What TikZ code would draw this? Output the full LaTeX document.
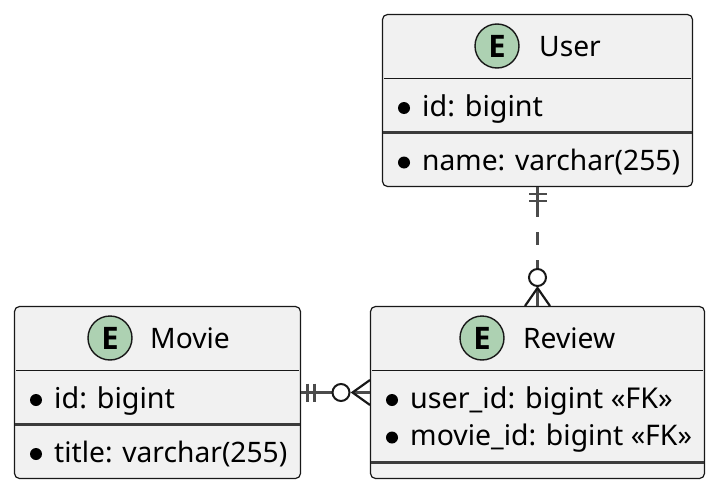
\documentclass[tikz,border=0pt]{standalone}
\usepackage{fontspec}
\setmainfont{Noto Sans}
\newfontfamily\spotfont{Open Sans}
\definecolor{ink}{HTML}{181818}
\definecolor{boxfill}{HTML}{F1F1F1}
\definecolor{spot}{HTML}{ADD1B2}
\tikzset{
  entity/.style={draw=ink,fill=boxfill,line width=1.2pt,rounded corners=5pt,inner sep=0pt,minimum height=172pt},
  spotnode/.style={circle,draw=ink,fill=spot,line width=1.4pt,inner sep=0pt,minimum size=44pt,font=\spotfont\bfseries\fontsize{31}{31}\selectfont},
  txt/.style={anchor=base west,inner sep=0pt,font=\fontsize{28.2}{28.2}\selectfont,text=black},
  widetxt/.style={txt,font=\fontsize{28.7}{28.7}\selectfont},
  bulletdot/.style={circle,fill=black,inner sep=0pt,minimum size=12pt},
  headline/.style={draw=ink,line width=1.2pt},
  sepline/.style={draw=ink!85!white,line width=2.2pt},
  conn/.style={draw=ink!78!white,line width=2.05pt},
  crow/.style={draw=ink,line width=2.2pt},
  ring/.style={circle,draw=ink,fill=white,line width=2pt,inner sep=0pt,minimum size=17pt}
}
\begin{document}
\begin{tikzpicture}[x=1pt,y=-1pt]
\useasboundingbox (0,0) rectangle (716,490);
% entities
\node[entity,minimum width=310pt] (user) at (537.5,100.5) {};
\node[entity,minimum width=286pt] (movie) at (157.5,392.5) {};
\node[entity,minimum width=334pt] (review) at (537.5,392.5) {};
% User
\node[spotnode] (userspot) at (497,46) {E};
\node[txt] (usertitle) at (539,56.5) {User};
\draw[headline] (384,78.5) -- (691,78.5);
\node[bulletdot] (ub1) at (404,108) {};
\node[widetxt] (uid) at (422,116) {id: bigint};
\draw[sepline] (383,132.5) -- (692,132.5);
\node[bulletdot] (ub2) at (404,162.5) {};
\node[txt] (uname) at (422,170.5) {name: varchar(255)};
% Movie
\node[spotnode] (moviespot) at (110,338) {E};
\node[txt] (movietitle) at (150,348.5) {Movie};
\draw[headline] (16,370.5) -- (299,370.5);
\node[bulletdot] (mb1) at (36,400) {};
\node[widetxt] (mid) at (54,408) {id: bigint};
\draw[sepline] (15,424.5) -- (300,424.5);
\node[bulletdot] (mb2) at (36,454) {};
\node[txt] (mtitle) at (54,462.5) {title: varchar(255)};
% Review
\node[spotnode] (reviewspot) at (482,338) {E};
\node[txt] (reviewtitle) at (523,348.5) {Review};
\draw[headline] (372,370.5) -- (703,370.5);
\node[bulletdot] (rb1) at (392,400) {};
\node[widetxt] (ruser) at (410,408) {user\_id: bigint «FK»};
\node[bulletdot] (rb2) at (392,437.5) {};
\node[txt,font=\fontsize{28.4}{28.4}\selectfont] (rmovie) at (410,445.5) {movie\_id: bigint «FK»};
\draw[sepline] (371,462.5) -- (704,462.5);
% User -- Review
\draw[conn,dash pattern=on 30pt off 15pt on 13pt off 15pt on 11pt off 200pt] (user.south) -- (review.north);
\draw[conn] (529,194) -- (547,194) (529,201) -- (547,201);
\node[ring] (ringv) at (537.5,277.5) {};
\draw[conn] (537.5,288) -- (537.5,306);
\draw[crow] (525,306) -- (537.5,288) -- (550,306);
% Movie -- Review
\draw[conn,dash pattern=on 32pt off 200pt] (movie.east) -- (review.west);
\draw[conn] (307.5,383.5) -- (307.5,401.5) (314.5,383.5) -- (314.5,401.5);
\node[ring] (ringh) at (341,392.5) {};
\draw[conn] (352.5,392.5) -- (370,392.5);
\draw[crow] (370,380) -- (352.5,392.5) -- (370,405);
\end{tikzpicture}
\end{document}
